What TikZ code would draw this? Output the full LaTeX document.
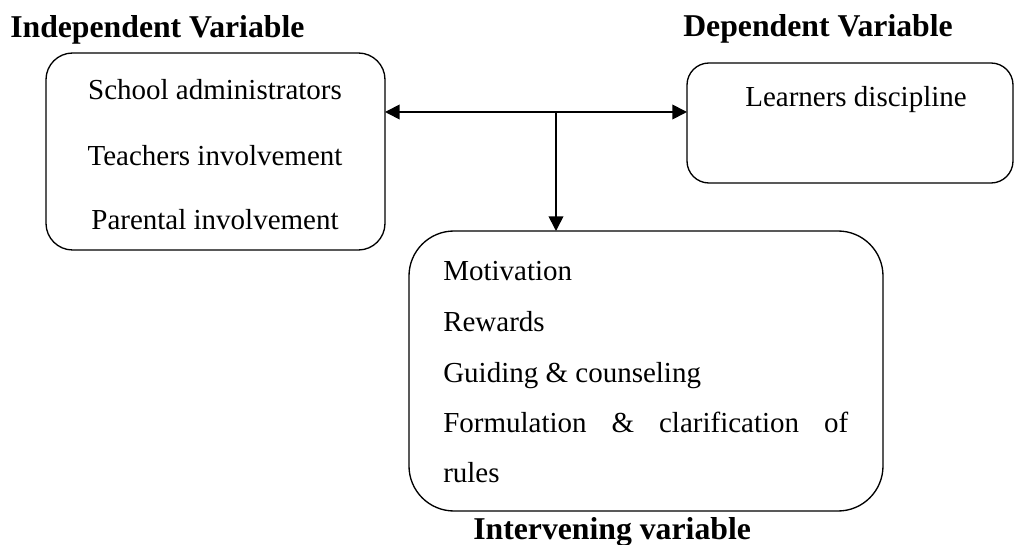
\documentclass[tikz,border=0pt]{standalone}
\usepackage{fontspec}
\setmainfont{Liberation Serif}
\usetikzlibrary{arrows.meta}
\begin{document}
\begin{tikzpicture}[x=0.75pt,y=-0.75pt,
  box/.style={draw,line width=1pt,rounded corners=#1,inner sep=0pt,outer sep=0pt},
  body/.style={inner sep=0pt,font=\fontsize{21.75}{26}\selectfont},
  head/.style={inner sep=0pt,anchor=base west,font=\bfseries\fontsize{23.8}{28}\selectfont},
  conn/.style={line width=1.3pt,-{Triangle[length=11pt,width=11pt]}},
  conn2/.style={line width=1.3pt,{Triangle[length=11pt,width=11pt]}-{Triangle[length=11pt,width=11pt]}}]
\useasboundingbox (0,0) rectangle (1015,545);
% boxes
\node[box=20pt,minimum width=254.25pt,minimum height=147.75pt] (ind) at (215.5,151.5) {};
\node[box=16.5pt,minimum width=244.5pt,minimum height=90pt] (dep) at (850,123) {};
\node[box=33.75pt,minimum width=355.5pt,minimum height=210pt] (int) at (646,371) {};
% headings
\node[head] (hind) at (10,38) {Independent Variable};
\node[head] (hdep) at (683,37) {Dependent Variable};
\node[head] (hint) at (473,539) {Intervening variable};
% left box text
\node[body,anchor=base] (t1) at (215,100) {School administrators};
\node[body,anchor=base] (t2) at (215,166) {Teachers involvement};
\node[body,anchor=base] (t3) at (215,230) {Parental involvement};
% right box text
\node[body,anchor=base] (t4) at (856,107) {Learners discipline};
% bottom box text
\node[body,anchor=base west] (m1) at (443,281) {Motivation};
\node[body,anchor=base west] (m2) at (443,332) {Rewards};
\node[body,anchor=base west] (m3) at (443,383) {Guiding \& counseling};
\node[body,anchor=base west] (m4) at (443,433) {\makebox[303.75pt][s]{Formulation \& clarification of}};
\node[body,anchor=base west] (m5) at (443,483) {rules};
% connectors
\coordinate (j) at (556,112);
\draw[conn2] (ind.east |- j) -- (dep.west |- j);
\draw[conn] (j) -- (int.north -| j);
\end{tikzpicture}
\end{document}
